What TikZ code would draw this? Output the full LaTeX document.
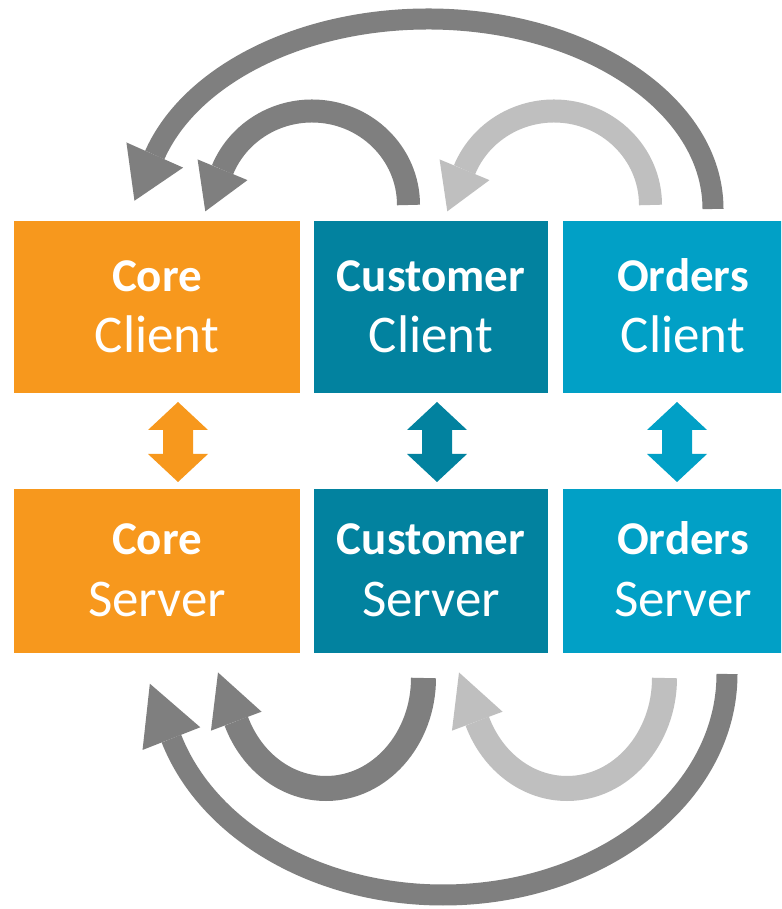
\documentclass[tikz,border=0pt]{standalone}
\usepackage{fontspec}
\setmainfont{Carlito}
\usetikzlibrary{decorations.markings,calc}
\definecolor{coreor}{HTML}{F7981D}
\definecolor{custteal}{HTML}{02829F}
\definecolor{ordblue}{HTML}{01A0C6}
\definecolor{darkarr}{HTML}{7F7F7F}
\definecolor{lightarr}{HTML}{BFBFBF}
\newcommand\dblarr[3]{% x, name, colour
  \coordinate (#2t) at (#1,507);
  \coordinate (#2b) at (#1,427);
  \fill[#3] (#2t) -- ++(30,-28) -- ++(-15,0) |- ($(#2b)+(15,28)$) -- ++(15,0) -- (#2b)
    -- ++(-30,28) -- ++(15,0) |- ($(#2t)+(-15,-28)$) -- ++(-15,0) -- cycle;}
\begin{document}
\begin{tikzpicture}[x=1pt,y=1pt,
  cbox/.style={inner sep=0pt, outer sep=0pt, minimum width=#1},
  crow/.style={minimum height=172pt},
  srow/.style={minimum height=164pt},
  ttop/.style={anchor=base, text=white, inner sep=0pt, font=\fontsize{47}{56}\selectfont\bfseries},
  tbot/.style={anchor=base, text=white, inner sep=0pt, font=\fontsize{53}{63}\selectfont},
  headed/.style n args={3}{decoration={markings,
      mark=at position 1 with {\fill[#1] (0,#2/2) -- (#3,0) -- (0,-#2/2) -- cycle;}},
      postaction={decorate}},
  shaft/.style={line cap=butt}]
\path[use as bounding box, fill=white] (0,0) rectangle (781,909);
\clip (0,0) rectangle (781,909);

% boxes
\node[cbox=286pt, crow, fill=coreor]   (cc) at (157,602) {};
\node[cbox=234pt, crow, fill=custteal] (uc) at (431,602) {};
\node[cbox=234pt, crow, fill=ordblue]  (oc) at (680,602) {};
\node[cbox=286pt, srow, fill=coreor]   (cs) at (157,338) {};
\node[cbox=234pt, srow, fill=custteal] (us) at (431,338) {};
\node[cbox=234pt, srow, fill=ordblue]  (os) at (680,338) {};

% texts
\node[ttop] (cc1) at ($(cc.north)+(0,-71)$) {Core};
\node[tbot] (cc2) at ($(cc.north)+(0,-132)$) {Client};
\node[ttop] (uc1) at ($(uc.north)+(0,-71)$) {Customer};
\node[tbot] (uc2) at ($(uc.north)+(0,-132)$) {Client};
\node[ttop] (oc1) at ($(oc.north)+(3,-71)$) {Orders};
\node[tbot] (oc2) at ($(oc.north)+(3,-132)$) {Client};
\node[ttop] (cs1) at ($(cs.north)+(0,-66)$) {Core};
\node[tbot] (cs2) at ($(cs.north)+(0,-128)$) {Server};
\node[ttop] (us1) at ($(us.north)+(0,-66)$) {Customer};
\node[tbot] (us2) at ($(us.north)+(0,-128)$) {Server};
\node[ttop] (os1) at ($(os.north)+(3,-66)$) {Orders};
\node[tbot] (os2) at ($(os.north)+(3,-128)$) {Server};

% client <-> server arrows
\dblarr{178}{ca}{coreor}
\dblarr{437}{ua}{custteal}
\dblarr{677}{oa}{ordblue}

% top curved arrows
\coordinate (b1s) at (713,700);
\coordinate (b2s) at (408.5,704);
\coordinate (b3s) at (650.5,704);
\draw[shaft, darkarr, line width=21pt, headed={darkarr}{62}{50}]
  (b1s) arc[start angle=0, end angle=163.5, x radius=285, y radius=190];
\draw[shaft, darkarr, line width=23pt, headed={darkarr}{54}{45}]
  (b2s) arc[start angle=0, end angle=158, x radius=96.5, y radius=94];
\draw[shaft, lightarr, line width=23pt, headed={lightarr}{54}{45}]
  (b3s) arc[start angle=0, end angle=158, x radius=96.5, y radius=94];

% bottom curved arrows
\coordinate (c1s) at (727,235);
\coordinate (c2s) at (423.5,231);
\coordinate (c3s) at (664.5,231);
\draw[shaft, darkarr, line width=21pt, headed={darkarr}{62}{59}]
  (c1s) arc[start angle=0, end angle=-163, x radius=284, y radius=221];
\draw[shaft, darkarr, line width=25pt, headed={darkarr}{54}{52}]
  (c2s) arc[start angle=0, end angle=-157, x radius=97.5, y radius=110.5];
\draw[shaft, lightarr, line width=25pt, headed={lightarr}{54}{52}]
  (c3s) arc[start angle=0, end angle=-157, x radius=97.5, y radius=110.5];
\end{tikzpicture}
\end{document}
